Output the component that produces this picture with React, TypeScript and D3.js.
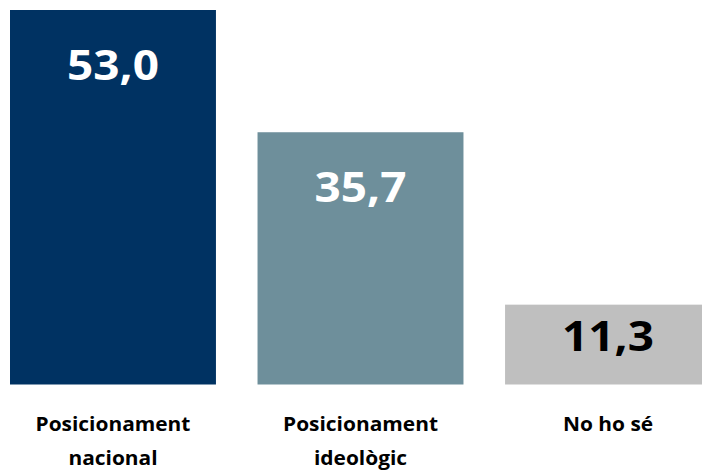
import React from "react";
import * as d3 from "d3";

const categories: string[][] = [
  ["Posicionament", "nacional"],
  ["Posicionament", "ideològic"],
  ["No ho sé"],
];
const values: number[] = [53.0, 35.7, 11.3];
const barColors: string[] = ["#003262", "#6E8F9B", "#BFBFBF"];
const labelColors: string[] = ["#FFFFFF", "#FFFFFF", "#000000"];

const W = 702;
const H = 471;
const FONT = "'Open Sans', 'DejaVu Sans', sans-serif";

export default function App() {
  const keys = categories.map((c) => c.join(" "));
  const x = d3
    .scaleBand<string>()
    .domain(keys)
    .range([10, 711])
    .paddingInner(0.168)
    .paddingOuter(0);
  const y = d3.scaleLinear().domain([0, 53]).range([384.5, 10]);
  const fmt = (v: number) => d3.format(".1f")(v).replace(".", ",");

  return (
    <svg
      width={W}
      height={H}
      style={{ position: "absolute", left: 0, top: 0, background: "#fff" }}
    >
      {values.map((v, i) => {
        const bx = x(keys[i])!;
        const bw = x.bandwidth();
        const top = y(v);
        const bottom = y(0);
        const cy = Math.min(top + 54, (top + bottom) / 2 - 10);
        return (
          <g key={i}>
            <rect x={bx} y={top} width={bw} height={bottom - top} fill={barColors[i]} />
            <text
              transform={`translate(${bx + bw / 2},${cy}) scale(1.12,1)`}
              textAnchor="middle"
              dominantBaseline="central"
              fontFamily={FONT}
              fontWeight={700}
              fontSize={41}
              fill={labelColors[i]}
            >
              {fmt(v)}
            </text>
            {categories[i].map((line, j) => (
              <text
                key={j}
                transform={`translate(${bx + bw / 2},${431 + j * 34}) scale(1.1,1)`}
                textAnchor="middle"
                fontFamily={FONT}
                fontWeight={700}
                fontSize={19}
                fill="#000"
              >
                {line}
              </text>
            ))}
          </g>
        );
      })}
    </svg>
  );
}
